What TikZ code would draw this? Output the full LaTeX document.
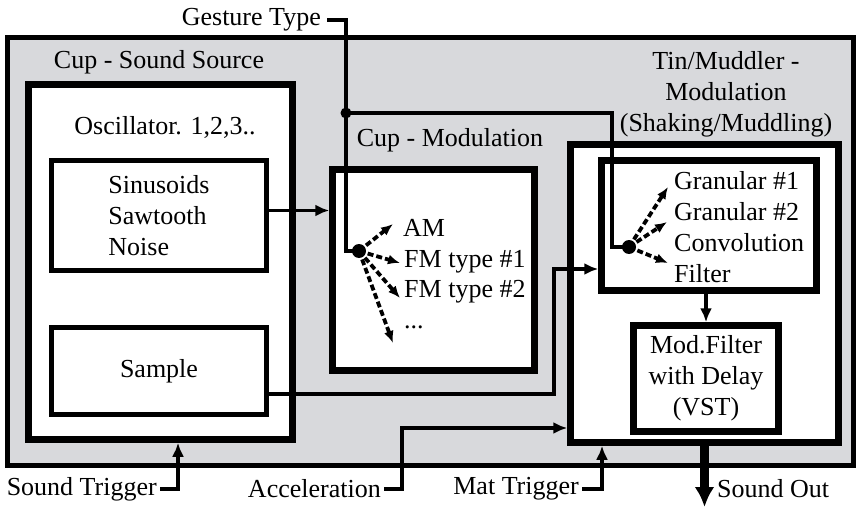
\documentclass[tikz,border=0pt]{standalone}
\usepackage{fontspec}
\setmainfont{Liberation Serif}
\usetikzlibrary{arrows.meta}
\definecolor{panelgray}{RGB}{216,217,220}
\tikzset{% boxes and wires
  panel/.style={draw, line width=5pt, fill=panelgray, inner sep=0pt},
  block/.style={draw, line width=6.5pt, fill=white, inner sep=0pt, font=\fontsize{26}{31}\selectfont},
  subblock/.style={draw, line width=4.5pt, fill=white, inner sep=0pt, font=\fontsize{26}{31}\selectfont},
  lbl/.style={inner sep=0pt, font=\fontsize{26}{31}\selectfont},
  wire/.style={line width=3.8pt},
  conn/.style={line width=3.8pt, -{Latex[length=14pt,width=12pt]}},
  dasharr/.style={line width=3.8pt, dash pattern=on 6pt off 3pt, -{Latex[length=12pt,width=10pt]}},
  outarr/.style={line width=9pt, -{Latex[length=20pt,width=20pt]}}
}

\begin{document}
\begin{tikzpicture}[x=1pt,y=-1pt]
\useasboundingbox (0,0) rectangle (857,508);
\node [panel, minimum width=846pt, minimum height=428pt] (outer) at (430,251.5) {};
% sound source
\node [lbl] (srctitle) at (159,62) {Cup - Sound Source};
\node [block, minimum width=264pt, minimum height=355pt] (src) at (160.5,262) {};
\node [lbl] (osctitle) at (165,127) {Oscillator. 1,2,3..};
\node [subblock, minimum width=215pt, minimum height=110pt, align=left] (osc) at (159,215.5) {Sinusoids\\Sawtooth\\Noise};
\node [subblock, minimum width=215pt, minimum height=87pt] (sample) at (159,371) {Sample};
% cup modulation
\node [lbl] (modtitle) at (450,140) {Cup - Modulation};
\node [block, minimum width=202pt, minimum height=201pt] (cupmod) at (433.5,270) {};
\node [lbl, anchor=west] (am) at (403,228) {AM};
\node [lbl, anchor=west] (fm1) at (404,262) {FM type \#1};
\node [lbl, anchor=west] (fm2) at (404,292) {FM type \#2};
\node [lbl, anchor=west] (more) at (404,327) {...};
% tin/muddler
\node [lbl, align=center] (tintitle) at (726,94) {Tin/Muddler -\\Modulation\\(Shaking/Muddling)};
\node [block, minimum width=268pt, minimum height=298pt] (tin) at (704.5,293.5) {};
\node [block, minimum width=215pt, minimum height=130pt] (gran) at (709,225.5) {};
\node [lbl, anchor=west] (g1) at (674,181) {Granular \#1};
\node [lbl, anchor=west] (g2) at (674,212) {Granular \#2};
\node [lbl, anchor=west] (conv) at (674,243) {Convolution};
\node [lbl, anchor=west] (filt) at (674,274) {Filter};
\node [block, minimum width=145pt, minimum height=106pt, align=center] (modf) at (706,378.5) {Mod.Filter\\with Delay\\(VST)};
% inputs and output
\node [lbl, anchor=east] (gesture) at (321,20) {Gesture Type};
\node [lbl, anchor=east] (strig) at (157,489) {Sound Trigger};
\node [lbl, anchor=east] (accel) at (381,489) {Acceleration};
\node [lbl, anchor=east] (mattrig) at (579,489) {Mat Trigger};
\node [lbl, anchor=west] (sndout) at (717,489) {Sound Out};
\coordinate (j1) at (346,113);
\coordinate (d1) at (359,251);
\coordinate (d2) at (629,247);
\coordinate (outend) at (704.5,507);

\draw [conn] ([yshift=5pt]osc.east) -- ([yshift=5pt]cupmod.west |- osc.east);
\draw [conn] ([yshift=-23pt]sample.east) -- ++(285,0) |- ([yshift=-43.5pt]gran.west);
\draw [conn] (modf.north |- gran.south) -- (modf.north);
\draw [conn] ([xshift=3pt]strig.east) -| ([xshift=17.5pt]src.south);
\draw [conn] ([xshift=3pt]accel.east) -- ++(18,0) |- ([yshift=-134.5pt]tin.west);
\draw [conn] ([xshift=3pt]mattrig.east) -| ([xshift=-102.5pt]tin.south);
\draw [outarr] (tin.south) -- (outend);
\draw [wire] ([xshift=6pt]gesture.east) -| (j1) |- (d1);
\draw [wire] (j1) -- ++(266,0) |- (d2);
\fill (j1) circle (5.5pt);
\fill (d1) circle (7pt);
\fill (d2) circle (7pt);
\draw [dasharr] (d1) -- ([xshift=-10pt,yshift=4pt]am.west);
\draw [dasharr] (d1) -- ([xshift=-4pt,yshift=-1pt]fm1.west);
\draw [dasharr] (d1) -- ([xshift=-4pt,yshift=-6pt]fm2.west);
\draw [dasharr] (d1) -- ([xshift=-11pt,yshift=-16pt]more.west);
\draw [dasharr] (d2) -- ([xshift=-6pt,yshift=-6pt]g1.west);
\draw [dasharr] (d2) -- ([xshift=-7pt,yshift=-10pt]g2.west);
\draw [dasharr] (d2) -- ([xshift=-6pt,yshift=11pt]filt.west);
\end{tikzpicture}
\end{document}
